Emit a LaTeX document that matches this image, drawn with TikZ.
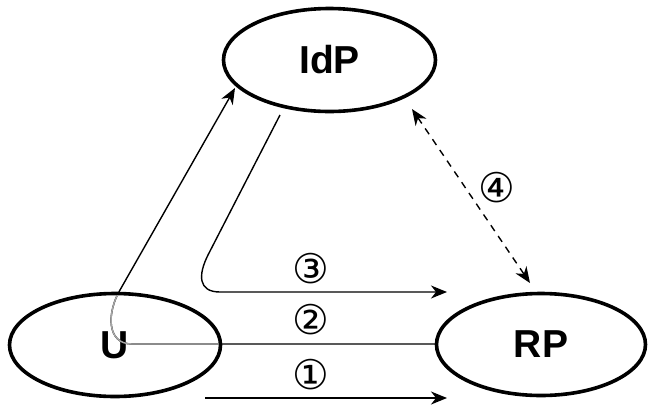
\documentclass[tikz,border=0pt]{standalone}
\usepackage{fontspec}
\setmainfont{Liberation Sans}
\newfontfamily\symfont{DejaVu Sans}
\usetikzlibrary{arrows.meta,shapes.geometric}
\tikzset{
  party/.style={draw=black, line width=3.6pt, ellipse, inner sep=0pt,
    font=\fontsize{39}{40}\selectfont\bfseries},
  tip/.style={},
  flow/.style={line width=1.4pt, -{Stealth[length=16pt,width=13pt,inset=5pt]}},
  plain/.style={line width=1.4pt},
  dashflow/.style={line width=1.4pt, dash pattern=on 7pt off 6pt,
    {Stealth[length=16pt,width=13pt,inset=5pt]}-{Stealth[length=16pt,width=13pt,inset=5pt]}},
  steplabel/.style={font=\symfont\fontsize{41}{42}\selectfont, inner sep=0pt}
}
\begin{document}
\begin{tikzpicture}[x=1pt,y=-1pt]
\useasboundingbox (0,0) rectangle (648,405);
% parties
\node[party, minimum width=212pt, minimum height=103pt] (idp) at (329.5,60) {IdP};
\node[party, minimum width=211pt, minimum height=103pt] (u) at (115,345) {U};
\node[party, minimum width=209pt, minimum height=102pt] (rp) at (541,344.5) {RP};
% coordinates
\coordinate (a2s) at (435,344);
\coordinate (a2e) at (235,88);
\coordinate (a3s) at (280,115);
\coordinate (a3e) at (447,292);
\coordinate (a1s) at (205,398);
\coordinate (a1e) at (447,398);
\coordinate (a4s) at (412,109);
\coordinate (a4e) at (530,283);
% step 2: RP -> U -> IdP
\draw[flow] (a2s) -- (132,344) .. controls (106,344) and (107,312) .. (120,290) -- (a2e);
\begin{scope}
  \clip (u.center) ellipse [x radius=104pt, y radius=50pt];
  \draw[plain, draw=black!35] (a2s) -- (132,344) .. controls (106,344) and (107,312) .. (120,290) -- (a2e);
\end{scope}
% step 3: IdP -> RP
\draw[flow] (a3s) -- (208,255) .. controls (198,275) and (198,292) .. (220,292) -- (a3e);
% step 1: U -> RP
\draw[flow] (a1s) -- (a1e);
% step 4: IdP <-> RP
\draw[dashflow] (a4s) -- (a4e);
% labels
\node[steplabel] (l1) at (311,375) {①};
\node[steplabel] (l2) at (311,320) {②};
\node[steplabel] (l3) at (311,269) {③};
\node[steplabel] (l4) at (497,188) {④};
\end{tikzpicture}
\end{document}
